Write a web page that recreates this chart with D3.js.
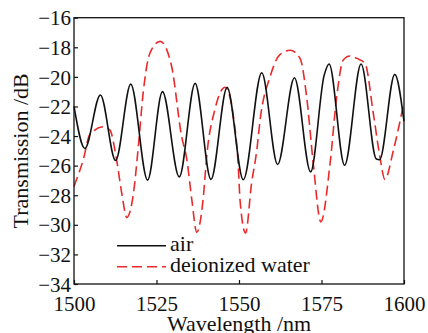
<!DOCTYPE html>
<html>
<head>
<meta charset="utf-8">
<script src="https://cdn.jsdelivr.net/npm/d3@7"></script>
<style>
  body { margin: 0; background: #fff; }
  text { font-family: "Liberation Serif", Tinos, "Times New Roman", Times, "DejaVu Serif", serif; }
</style>
</head>
<body>
<script>
//data: [wavelength nm, transmission dB]
let airSeries = [
  [1500, -22.0], [1503.3, -24.84], [1508.0, -21.22], [1512.6, -25.65],
  [1517.2, -20.49], [1522.3, -26.98], [1526.8, -21.0], [1531.9, -26.76],
  [1536.7, -20.44], [1541.5, -26.93], [1546.4, -20.71], [1551.3, -26.95],
  [1556.9, -19.72], [1561.7, -25.92], [1566.8, -20.06], [1571.7, -26.42],
  [1575.8, -19.9], [1577.3, -19.13], [1582.0, -25.97], [1587.0, -19.13],
  [1591.6, -25.55], [1592.6, -25.6], [1597.2, -19.83], [1600, -23.0]
];

let waterSeries = [
  [1500, -27.4], [1502.8, -25.6], [1504.8, -23.9], [1508.9, -23.37],
  [1510.9, -23.6], [1512.9, -25.6], [1514.5, -27.9], [1516.0, -29.5],
  [1518.0, -27.9], [1519.5, -24.7], [1521.0, -21.0], [1523.0, -18.4],
  [1526.1, -17.6], [1529.5, -19.2], [1532.6, -24.0], [1534.2, -25.6],
  [1535.7, -28.3], [1537.2, -30.5], [1539.2, -28.1], [1540.2, -25.4],
  [1542.7, -22.2], [1545.8, -20.7], [1548.5, -23.0], [1549.8, -26.1],
  [1550.3, -28.3], [1552.0, -30.55], [1553.8, -27.2], [1555.4, -24.95],
  [1556.4, -22.9], [1559.4, -20.0], [1562.4, -18.5], [1565.5, -18.2],
  [1568.5, -18.75], [1570.5, -21.35], [1572.5, -25.85], [1574.8, -29.8],
  [1577.6, -25.85], [1579.6, -21.35], [1581.6, -18.86], [1583.6, -18.59],
  [1585.7, -18.75], [1588.2, -19.09], [1590.7, -22.47], [1592.7, -25.4],
  [1594.2, -26.93], [1596.8, -24.95], [1600, -21.7]
];

let xTicks = [1500, 1525, 1550, 1575, 1600];
let yTicks = [-16, -18, -20, -22, -24, -26, -28, -30, -32, -34];
let seriesNames = ["air", "deionized water"];

//layout
let width = 428, height = 333;
let margin = { top: 17.7, right: 24, bottom: 49, left: 74 };
let plotW = width - margin.left - margin.right;
let plotH = height - margin.top - margin.bottom;

let svg = d3.select("body").append("svg")
  .attr("width", width)
  .attr("height", height);

let g = svg.append("g")
  .attr("transform", "translate(" + margin.left + "," + margin.top + ")");

let xScale = d3.scaleLinear().domain([1500, 1600]).range([0, plotW]);
let yScale = d3.scaleLinear().domain([-34, -16]).range([plotH, 0]);

let minus = s => String(s).replace("-", "\u2212");

//axes with inward ticks
let xAxis = d3.axisBottom(xScale).tickValues(xTicks).tickSize(-4).tickPadding(12).tickSizeOuter(0)
  .tickFormat(d3.format("d"));
let yAxis = d3.axisLeft(yScale).tickValues(yTicks).tickSize(-4).tickPadding(3).tickSizeOuter(0)
  .tickFormat(d => minus(d));

let gx = g.append("g").attr("transform", "translate(0," + plotH + ")").call(xAxis);
let gy = g.append("g").call(yAxis);

[gx, gy].forEach(a => {
  a.attr("font-family", null).attr("font-size", null);
  a.select(".domain").remove();
  a.selectAll(".tick line").attr("stroke", "#111").attr("stroke-width", 1.2);
  a.selectAll(".tick text")
    .style("font-size", "21px")
    .attr("fill", "#111");
});
gy.selectAll(".tick text").attr("dy", "0.34em");

//curves
let line = d3.line()
  .x(d => xScale(d[0]))
  .y(d => yScale(d[1]))
  .curve(d3.curveMonotoneX);

g.append("path")
  .datum(waterSeries)
  .attr("fill", "none")
  .attr("stroke", "#ea2a2a")
  .attr("stroke-width", 1.6)
  .attr("stroke-dasharray", "10,5")
  .attr("d", line);

g.append("path")
  .datum(airSeries)
  .attr("fill", "none")
  .attr("stroke", "#111")
  .attr("stroke-width", 1.6)
  .attr("d", line);

//frame
g.append("rect")
  .attr("width", plotW)
  .attr("height", plotH)
  .attr("fill", "none")
  .attr("stroke", "#111")
  .attr("stroke-width", 1.3);

//legend
let legend = g.append("g").attr("transform", "translate(43,228)");
let legendStyles = [
  { stroke: "#111", dash: null },
  { stroke: "#ea2a2a", dash: "10,5" }
];
seriesNames.forEach((name, i) => {
  let row = legend.append("g").attr("transform", "translate(0," + i * 21 + ")");
  row.append("line")
    .attr("x1", 0).attr("x2", 49)
    .attr("stroke", legendStyles[i].stroke)
    .attr("stroke-width", 1.6)
    .attr("stroke-dasharray", legendStyles[i].dash);
  row.append("text")
    .attr("x", 53)
    .attr("y", 5)
    .style("font-size", "22px")
    .attr("fill", "#111")
    .text(name);
});

//axis titles
svg.append("text")
  .attr("x", margin.left + plotW / 2)
  .attr("y", 331)
  .attr("text-anchor", "middle")
  .style("font-size", "22px")
  .attr("fill", "#111")
  .text("Wavelength /nm");

svg.append("text")
  .attr("transform", "translate(28," + (margin.top + plotH / 2) + ") rotate(-90)")
  .attr("text-anchor", "middle")
  .style("font-size", "22px")
  .attr("fill", "#111")
  .text("Transmission /dB");
</script>
</body>
</html>
